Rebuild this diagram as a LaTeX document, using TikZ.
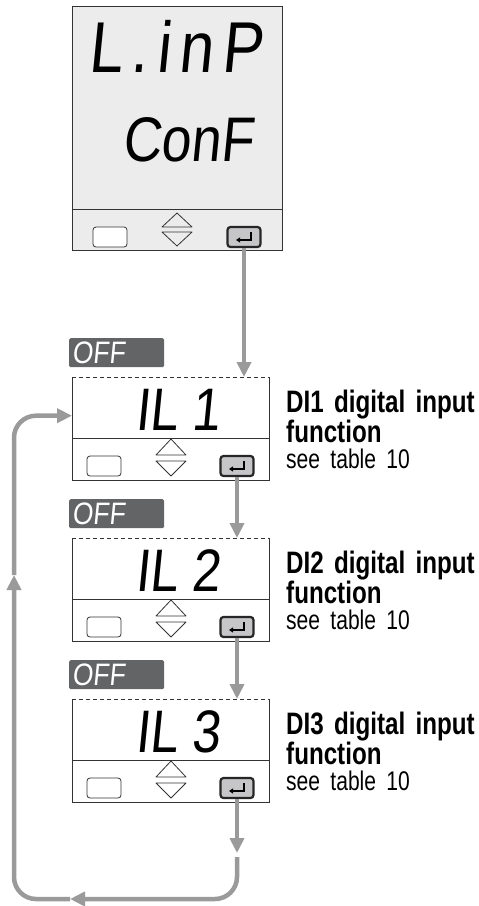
\documentclass[tikz,border=0pt]{standalone}
\usepackage{fontspec}
\usepackage{xcolor}
\usepackage{tikz}
\usetikzlibrary{positioning,arrows.meta,calc}
\newfontfamily\segfont[FakeSlant=0.1,FakeStretch=0.85]{Liberation Sans}
\newfontfamily\lblfont[FakeStretch=0.78,WordSpace=0.6]{Liberation Sans}
\definecolor{flowgray}{HTML}{9A9A9A}
\definecolor{offgray}{HTML}{636466}
\definecolor{panelgray}{HTML}{ECECED}
\definecolor{keygray}{HTML}{C6C6C8}
\definecolor{edgec}{HTML}{333333}

\begin{document}
\begin{tikzpicture}[x=1pt,y=-1pt,
  scrline/.style={draw=edgec,line width=0.9pt},
  topbox/.style={draw=edgec,line width=0.9pt,fill=panelgray,minimum width=210pt,minimum height=244pt,inner sep=0pt},
  panel/.style={fill=white,minimum width=197pt,minimum height=103pt,inner sep=0pt},
  offbox/.style={fill=offgray,rounded corners=1.5pt,minimum width=95pt,minimum height=29pt,inner sep=0pt},
  offtxt/.style={text=white,inner sep=0pt,font=\segfont\fontsize{31}{31}\selectfont},
  disp/.style={inner sep=0pt,font=\segfont\fontsize{60}{60}\selectfont},
  modekey/.style={draw=edgec,line width=0.8pt,fill=white,rounded corners=3pt,minimum width=34pt,minimum height=20pt,inner sep=0pt},
  enterkey/.style={draw=black!85,line width=2.2pt,fill=keygray,rounded corners=3pt,minimum width=33pt,minimum height=20pt,inner sep=0pt},
  chev/.style={draw=edgec,line width=0.8pt,line join=round},
  retsym/.style={draw=black,line width=1.6pt,-{Triangle[width=5pt,length=4pt]}},
  lbl/.style={inner sep=0pt,text width=200pt,align=left,font=\lblfont\fontsize{31}{26}\selectfont},
  flow/.style={draw=flowgray,line width=4.5pt,-{Triangle[width=14pt,length=15pt]}}]
\useasboundingbox (0,0) rectangle (479,906);
% configuration list header
\node[topbox,anchor=north west] (linp) at (72,6) {};
\draw[scrline] (72,209) -- (282,209);
\node[disp,font=\segfont\fontsize{72}{72}\selectfont,anchor=west] at (88,46) {\addfontfeature{LetterSpace=12}L.inP};
\node[disp,font=\segfont\fontsize{63}{63}\selectfont,anchor=west] at (122,140) {ConF};
\node[modekey] (mode0) at (110,237) {};
\draw[chev] (162,227) -- (177,213) -- (192,227) -- cycle;
\draw[chev] (162,232) -- (177,246) -- (192,232) -- cycle;
\node[enterkey] (ent0) at (244,237) {};
\draw[retsym] ([shift={(7,-5)}]ent0.center) -- ([shift={(7,3)}]ent0.center) -- ([shift={(-8,3)}]ent0.center);
% DI1..DI3 parameter panels
\foreach \i/\T in {1/377,2/538,3/699}{
  \node[offbox,anchor=north west] (off\i) at (69,\T-39) {};
  \node[offtxt,anchor=west] at ([xshift=3pt]off\i.west) {OFF};
  \node[panel,anchor=north west] (box\i) at (72,\T) {};
  \draw[scrline,dashed,dash pattern=on 4pt off 3pt] (box\i.north west) -- (box\i.north east);
  \draw[scrline] (box\i.north west) |- (box\i.south east) -- (box\i.north east);
  \draw[scrline] (72,\T+61) -- (269,\T+61);
  \node[disp,anchor=west] at (135,\T+33) {IL \i};
  \node[modekey] (mode\i) at (104,\T+89) {};
  \draw[chev] (156,\T+78) -- (171,\T+62) -- (186,\T+78) -- cycle;
  \draw[chev] (156,\T+84) -- (171,\T+99) -- (186,\T+84) -- cycle;
  \node[enterkey] (ent\i) at (237,\T+89) {};
  \draw[retsym] ([shift={(7,-5)}]ent\i.center) -- ([shift={(7,3)}]ent\i.center) -- ([shift={(-8,3)}]ent\i.center);
  \node[lbl,anchor=north west] (lab\i) at (286,\T+13) {\bfseries DI\i{} digital input\\function\\\mdseries\fontsize{27}{26}\selectfont see table 10};
}
% enter steps down the list
\draw[flow] (ent0.south) -- (ent0.south |- box1.north);
\foreach \i/\j in {1/2,2/3}
  \draw[flow] (ent\i.south) -- (ent\i.south |- box\j.north);
% back to the first item
\coordinate (drop) at (237,853);
\coordinate (turn) at (70,899);
\coordinate (rise) at (14,575);
\draw[flow] (ent3.south) -- (drop);
\draw[flow,rounded corners=22pt,shorten <=4pt] (drop) |- (turn);
\draw[flow,rounded corners=22pt] (turn) -| (rise);
\draw[flow,rounded corners=22pt] (rise) |- ([yshift=13pt]box1.west);
\end{tikzpicture}
\end{document}
